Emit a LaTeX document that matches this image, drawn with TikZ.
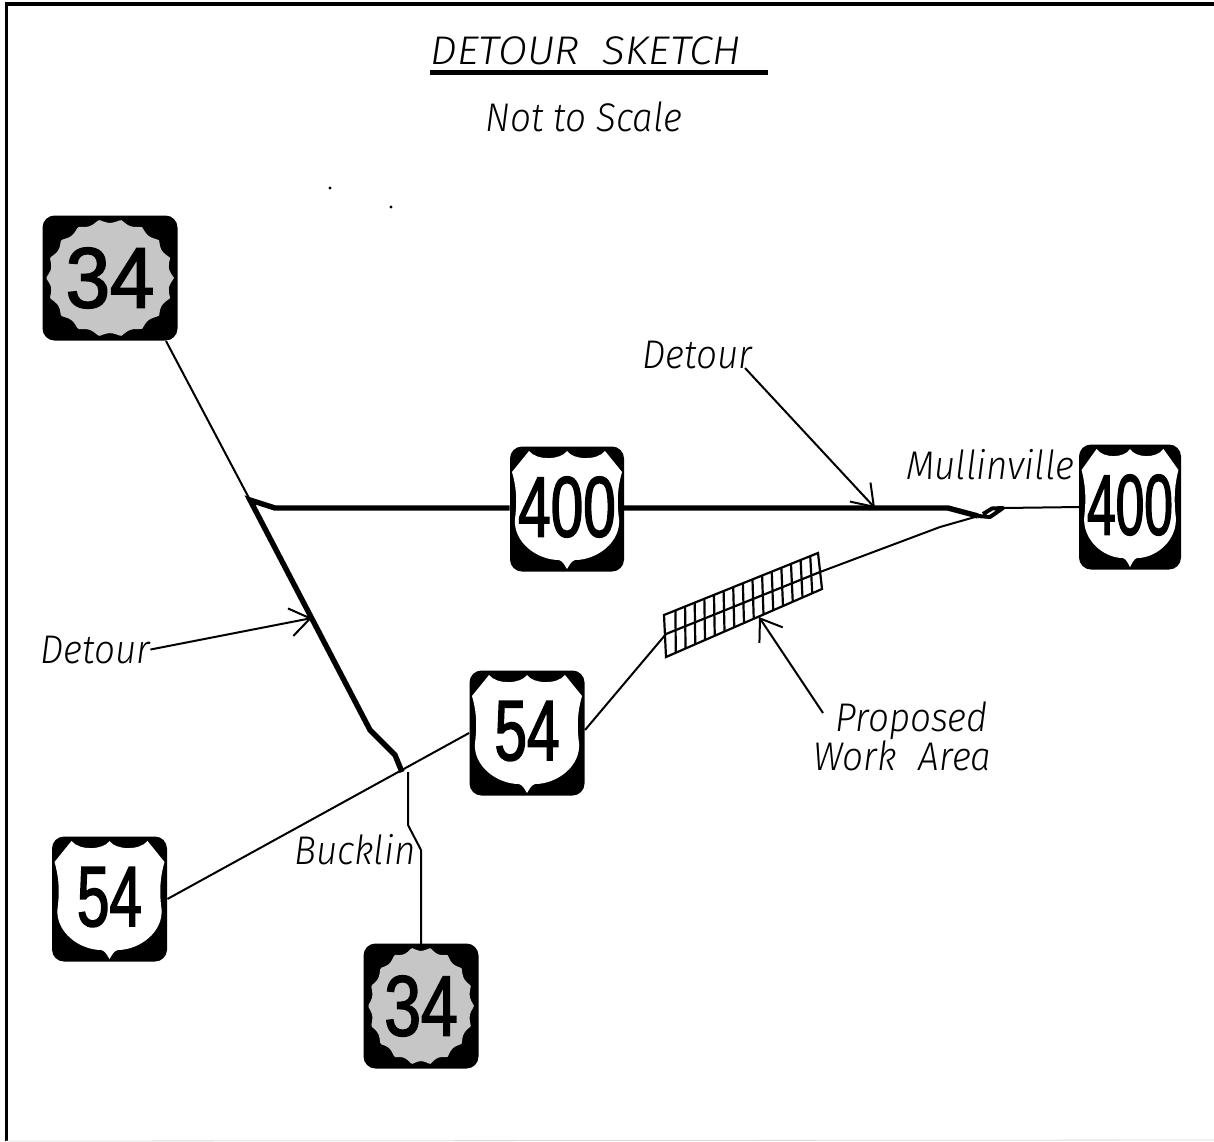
\documentclass[tikz,border=0pt]{standalone}
\usepackage{fontspec}
\usetikzlibrary{arrows.meta,calc}
\setmainfont{Fira Sans Light}[ItalicFont=* Italic, FakeStretch=0.92]
\newfontfamily\signfont[FakeStretch=0.68, FakeBold=1.6]{Liberation Sans}
\definecolor{scallopgray}{HTML}{C6C6C6}
\tikzset{
  signbox/.style={fill=black, rounded corners=6pt, inner sep=0pt, minimum height=62.5pt},
  signnum/.style={font=\signfont\fontsize{43pt}{43pt}\selectfont, inner sep=0pt},
  lbl/.style={font=\itshape\fontsize{20pt}{20pt}\selectfont, inner sep=0pt},
  road/.style={line width=1pt},
  hatching/.style={line width=1.1pt},
  detour/.style={line width=2.7pt},
  leader/.style={line width=1pt, -{Straight Barb[length=10pt,width=14pt]}}
}
% #1 name, #2 centre, #3 box width, #4 shape xscale, #5 number
\newcommand{\usroute}[5]{
  \node[signbox, minimum width=#3pt] (#1) at (#2) {};
  \fill[white, shift={(#1.center)}, xscale=#4] (0,-58) .. controls (6,-49) and (30,-48) .. (38,-58) -- (55,-37) .. controls (50,-20) and (50,-5) .. (52,10) .. controls (54,33) and (30,51) .. (8,51) .. controls (4,52) and (2,57) .. (0,60) .. controls (-2,57) and (-4,52) .. (-8,51) .. controls (-30,51) and (-54,33) .. (-52,10) .. controls (-50,-5) and (-50,-20) .. (-55,-37) -- (-38,-58) .. controls (-30,-48) and (-6,-49) .. (0,-58) -- cycle;
  \node[signnum, xscale=#4] (#1num) at ($(#1.center)+(0,-2)$) {#5};
}
% #1 name, #2 centre, #3 box width, #4 scallop x radius, #5 number
\newcommand{\ksroute}[5]{
  \node[signbox, minimum width=#3pt] (#1) at (#2) {};
  \fill[scallopgray, shift={(#1.center)}] plot[smooth cycle, samples=181, domain=0:358] ({#4*(1-0.065*abs(sin(9*\x)))*cos(\x)}, {59*(1-0.065*abs(sin(9*\x)))*sin(\x)});
  \node[signnum, xscale=#4/47] (#1num) at (#1.center) {#5};
}
\begin{document}
\begin{tikzpicture}[x=0.5pt, y=-0.5pt]
\useasboundingbox (0,0) rectangle (1214,1141);
\coordinate (frameBL) at (6.5,1141);
\coordinate (frameTL) at (6.5,4);
\coordinate (frameTR) at (1214,4);
\draw[line width=1.7pt] (frameBL) -- (frameTL) -- (frameTR);
\draw[line width=0.4pt, black!15] (frameBL) -- (1214,1140);

\node[lbl, anchor=base west, xscale=1.15] (title) at (430,64) {DETOUR\ \ SKETCH};
\coordinate (ruleL) at (430,72.5);
\coordinate (ruleR) at (768,72.5);
\draw[line width=2.4pt] (ruleL) -- (ruleR);
\node[lbl, anchor=base west] (scale) at (485,131) {Not to Scale};
\fill (330,188) circle (0.8pt);
\fill (391,207) circle (0.8pt);

\ksroute{ks34n}{110,278}{67.5}{64}{34}
\ksroute{ks34s}{421,1006}{57.5}{53}{34}
\usroute{us400w}{567,509}{57}{1}{400}
\usroute{us400e}{1130,507}{51}{0.88}{400}
\usroute{us54e}{527,733}{57.5}{1}{54}
\usroute{us54w}{109.5,899}{57.5}{1}{54}

\coordinate (n34a) at (166,341);
\coordinate (jct) at (250,500);
\coordinate (jct2) at (275,508);
\coordinate (bend1) at (370,730);
\coordinate (bend2) at (395,755);
\coordinate (bucklin) at (402,772);
\coordinate (s34a) at (408,772);
\coordinate (s34b) at (408,825);
\coordinate (s34c) at (421,850);
\coordinate (s34d) at (421,944);
\coordinate (e54a) at (585,730);
\coordinate (e54b) at (666,634);
\coordinate (e54c) at (820,572);
\coordinate (e54d) at (940,527);
\coordinate (e54e) at (975,517);
\coordinate (w400a) at (624,508);
\coordinate (w400b) at (948,508);
\coordinate (w400c) at (978,516);
\coordinate (w400d) at (1003,508);
\coordinate (e400a) at (1080,507);

\draw[road] (n34a) -- (jct);
\draw[detour] (bucklin) -- (bend2) -- (bend1) -- (jct) -- (jct2) -- (us400w.west |- jct2);
\draw[detour] (w400a) -- (w400b) -- (w400c);
\draw[line width=2pt, line join=round] (w400c) -- (990,517) -- (w400d) -- (992,508.5) -- (983,514);
\draw[road] (w400d) -- (e400a);
\draw[road] (us54w.east) -- (us54e.west);
\draw[road] (s34a) -- (s34b) -- (s34c) -- (s34d);
\draw[road] (e54a) -- (e54b);
\draw[road] (e54c) -- (e54d) -- (e54e);

\coordinate (hatchTL) at (664,615);
\coordinate (hatchTR) at (818,553);
\coordinate (hatchBL) at (666,657);
\coordinate (hatchBR) at (822,589);
\draw[hatching] (hatchTL) -- (hatchTR) -- (hatchBR) -- (hatchBL) -- cycle;
\draw[hatching] (e54b) -- (e54c);
\foreach \t in {1,...,15} {
  \draw[hatching] ($(hatchTL)!\t/16+0.012!(hatchTR)$) -- ($(hatchBL)!\t/16!(hatchBR)$);
}

\node[lbl, anchor=base west] (detourN) at (642,368) {Detour};
\node[lbl, anchor=base west] (detourW) at (40,663) {Detour};
\node[lbl, anchor=base west] (mullin) at (906,479) {Mullinville};
\node[lbl, anchor=base west] (bucklinlbl) at (294,864) {Bucklin};
\node[lbl, anchor=base west] (prop1) at (835,731) {Proposed};
\node[lbl, anchor=base west] (prop2) at (813,770) {Work\hspace{6pt} Area};
\coordinate (startN) at (745,368);
\coordinate (tipN) at (875,508);
\coordinate (tipW) at (312,618);
\coordinate (startP) at (823,713);
\coordinate (tipP) at (759,617);
\draw[leader] (startN) -- (tipN);
\draw[leader] (detourW.east) -- (tipW);
\draw[leader] (startP) -- (tipP);
\end{tikzpicture}
\end{document}
